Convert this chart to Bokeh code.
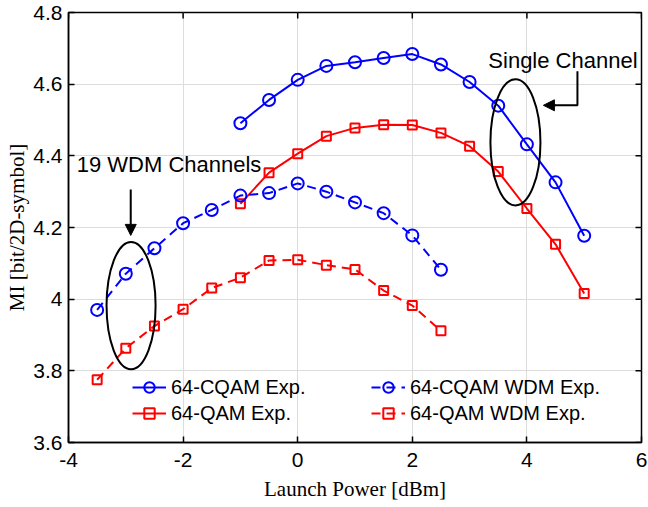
import math
from bokeh.plotting import figure
from bokeh.models import (Range1d, FixedTicker, Legend, LegendItem,
                          Arrow, NormalHead, CustomJSTickFormatter, Label)
from bokeh.embed import file_html
from bokeh.resources import INLINE

# ---------------- data ----------------
x_single = [-1, -0.5, 0, 0.5, 1, 1.5, 2, 2.5, 3, 3.5, 4, 4.5, 5]
cqam_exp = [4.491, 4.556, 4.612, 4.651, 4.661, 4.673, 4.684, 4.655, 4.606, 4.540, 4.432, 4.326, 4.177]
qam_exp = [4.266, 4.353, 4.406, 4.455, 4.478, 4.487, 4.486, 4.464, 4.427, 4.356, 4.253, 4.153, 4.016]

x_wdm = [-3.5, -3, -2.5, -2, -1.5, -1, -0.5, 0, 0.5, 1, 1.5, 2, 2.5]
cqam_wdm = [3.970, 4.071, 4.142, 4.212, 4.249, 4.289, 4.296, 4.323, 4.300, 4.270, 4.240, 4.178, 4.082]
qam_wdm = [3.775, 3.863, 3.925, 3.972, 4.031, 4.060, 4.108, 4.110, 4.095, 4.083, 4.024, 3.982, 3.912]

x_ticks = [-4, -2, 0, 2, 4, 6]
y_ticks = [3.6, 3.8, 4.0, 4.2, 4.4, 4.6, 4.8]

BLUE = "#0000ff"
RED = "#ff0000"
SANS = "Liberation Sans"
SERIF = "Liberation Serif"

XMIN, XMAX, YMIN, YMAX = -4, 6, 3.6, 4.8

p = figure(width=648, height=507, x_range=Range1d(XMIN, XMAX), y_range=Range1d(YMIN, YMAX),
           output_backend="svg", toolbar_location=None,
           min_border_left=68, min_border_right=7, min_border_top=12, min_border_bottom=65)
p.background_fill_color = "white"
p.border_fill_color = "white"
p.outline_line_color = "black"
p.outline_line_width = 1.5

fmt = CustomJSTickFormatter(code="return String(Math.round(tick*10)/10);")

for ax in p.xaxis + p.yaxis:
    ax.ticker = FixedTicker(ticks=x_ticks if ax in p.xaxis else y_ticks)
    ax.formatter = fmt
    ax.major_tick_in = 6
    ax.major_tick_out = 0
    ax.minor_tick_line_color = None
    ax.axis_line_width = 1.5
    ax.major_tick_line_width = 1.5
    ax.major_label_text_font = SANS
    ax.major_label_text_font_size = "21px"
    ax.major_label_text_color = "black"
    ax.axis_label_text_font = SERIF
    ax.axis_label_text_font_size = "21px"
    ax.axis_label_text_font_style = "normal"
    ax.axis_label_text_color = "black"

p.xaxis.axis_label = "Launch Power [dBm]"
p.yaxis.axis_label = "MI [bit/2D-symbol]"
p.xaxis.major_label_standoff = 10
p.yaxis.major_label_standoff = 6
p.xaxis.axis_label_standoff = 7
p.yaxis.axis_label_standoff = 1

p.grid.grid_line_color = "#dcdcdc"
p.grid.grid_line_width = 1
for g in p.grid:
    g.ticker = FixedTicker(ticks=x_ticks if g.dimension == 0 else y_ticks)

# mirrored inward ticks on top and right edges (half of each dash is clipped by the frame)
p.scatter(x_ticks, [YMAX] * len(x_ticks), marker="dash", size=12, angle=math.pi / 2,
          line_color="black", line_width=1.5)
p.scatter([XMAX] * len(y_ticks), y_ticks, marker="dash", size=12, angle=0,
          line_color="black", line_width=1.5)

LW = 2
DASH = "9 6"

l1 = p.line(x_single, cqam_exp, line_color=BLUE, line_width=LW)
s1 = p.scatter(x_single, cqam_exp, marker="circle", size=12, line_color=BLUE, line_width=2, fill_color=None)
l2 = p.line(x_single, qam_exp, line_color=RED, line_width=LW)
s2 = p.scatter(x_single, qam_exp, marker="square", size=9, line_color=RED, line_width=2, fill_color=None)
l3 = p.line(x_wdm, cqam_wdm, line_color=BLUE, line_width=LW, line_dash=DASH)
s3 = p.scatter(x_wdm, cqam_wdm, marker="circle", size=12, line_color=BLUE, line_width=2, fill_color=None)
l4 = p.line(x_wdm, qam_wdm, line_color=RED, line_width=LW, line_dash=DASH)
s4 = p.scatter(x_wdm, qam_wdm, marker="square", size=9, line_color=RED, line_width=2, fill_color=None)

# annotations: ellipses, arrows, texts
p.ellipse(x=[3.80], y=[4.4375], width=0.873, height=0.352, fill_color=None,
          line_color="black", line_width=2)
p.ellipse(x=[-2.908], y=[3.982], width=0.856, height=0.355, fill_color=None,
          line_color="black", line_width=2)

p.line([4.882, 4.882, 4.40], [4.636, 4.541, 4.541], line_color="black", line_width=2)
p.add_layout(Arrow(end=NormalHead(size=11, fill_color="black", line_color="black"),
                   x_start=4.5, y_start=4.541, x_end=4.288, y_end=4.541,
                   line_color="black", line_width=2))
p.add_layout(Arrow(end=NormalHead(size=11, fill_color="black", line_color="black"),
                   x_start=-2.914, y_start=4.306, x_end=-2.914, y_end=4.178,
                   line_color="black", line_width=2))

p.add_layout(Label(x=-2.245, y=4.376, text="19 WDM Channels", text_font=SANS,
                   text_font_size="22px", text_align="center", text_baseline="middle",
                   text_color="black"))
p.add_layout(Label(x=4.629, y=4.666, text="Single Channel", text_font=SANS,
                   text_font_size="22px", text_align="center", text_baseline="middle",
                   text_color="black"))

def make_legend(items, loc):
    lg = Legend(items=items, location=loc, padding=0, margin=0, spacing=0,
                glyph_width=34, glyph_height=26, label_height=26, label_standoff=5,
                border_line_color=None, background_fill_alpha=0,
                label_text_font=SANS, label_text_font_size="20px", label_text_color="black")
    return lg

leg1 = make_legend([LegendItem(label="64-CQAM Exp.", renderers=[l1, s1]),
                    LegendItem(label="64-QAM Exp.", renderers=[l2, s2])], (64, 16))
leg2 = make_legend([LegendItem(label="64-CQAM WDM Exp.", renderers=[l3, s3]),
                    LegendItem(label="64-QAM WDM Exp.", renderers=[l4, s4])], (303, 16))
p.add_layout(leg1)
p.add_layout(leg2)

open("out.html", "w").write(file_html(p, INLINE))
